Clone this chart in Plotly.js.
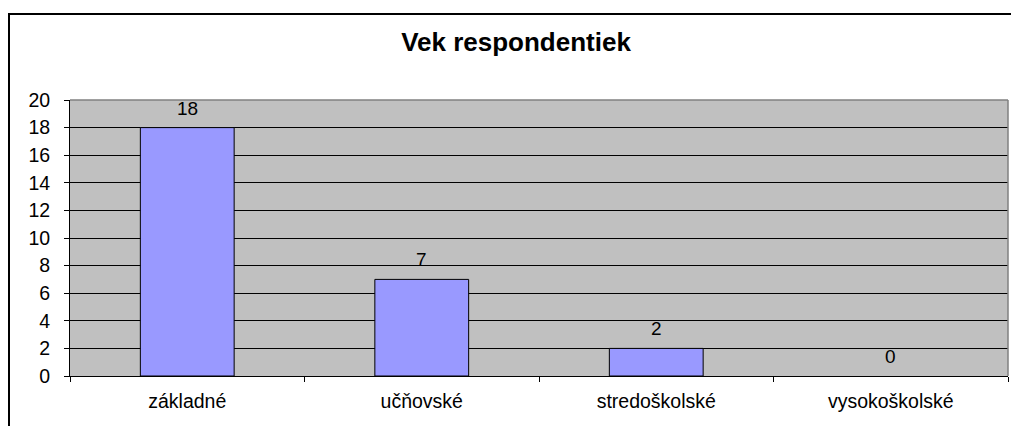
<!DOCTYPE html>
<html><head><meta charset="utf-8">
<script src="https://cdn.plot.ly/plotly-3.0.1.min.js"></script>
<style>
html,body{margin:0;padding:0;background:#fff;overflow:hidden}
#frame{position:absolute;left:8px;top:13px;width:1100px;height:500px;border-left:2px solid #000;border-top:2px solid #000;box-sizing:border-box}
#chart{position:absolute;left:0;top:0;width:1011px;height:426px}
</style></head>
<body>
<div id="frame"></div>
<div id="chart"></div>
<script>
var categories = ["základné", "učňovské", "stredoškolské", "vysokoškolské"];
var values = [18, 7, 2, 0];
var yTicks = [0, 2, 4, 6, 8, 10, 12, 14, 16, 18, 20];

var trace = {
  type: "bar",
  x: categories,
  y: values,
  marker: {color: "#9999ff", line: {color: "#000", width: values.map(function(v){ return v > 0 ? 1 : 0; })}},
  hoverinfo: "none"
};

var annotations = categories.map(function(c, i){
  return {x: c, y: values[i], xref: "x", yref: "y", text: String(values[i]),
    showarrow: false, yanchor: "bottom", yshift: 7,
    font: {family: "Liberation Sans, Arial, sans-serif", size: 19, color: "#000"}};
});

var layout = {
  width: 1011, height: 426,
  margin: {l: 70, r: 3, t: 100, b: 50},
  paper_bgcolor: "rgba(0,0,0,0)",
  plot_bgcolor: "#c0c0c0",
  showlegend: false,
  bargap: 0.6,
  font: {family: "Liberation Sans, Arial, sans-serif", size: 19.5, color: "#000"},
  title: {text: "<b>Vek respondentiek</b>", x: 0.5104, xanchor: "center", y: 0.9014, yanchor: "middle",
    font: {family: "Liberation Sans, Arial, sans-serif", size: 26, color: "#000"}},
  xaxis: {type: "category", showgrid: false, showline: true, linecolor: "#000", linewidth: 1,
    ticks: "outside", tickson: "boundaries", ticklen: 5, tickcolor: "#000",
    ticklabelstandoff: 8, fixedrange: true, zeroline: false},
  yaxis: {range: [0, 20], tickvals: yTicks, showgrid: true, gridcolor: "#000", gridwidth: 1,
    showline: true, linecolor: "#000", linewidth: 1, ticks: "outside", ticklen: 5, tickcolor: "#000",
    ticklabelstandoff: 10, zeroline: false, fixedrange: true},
  annotations: annotations,
  shapes: [
    {type: "line", xref: "paper", yref: "paper", x0: 0, x1: 1, y0: 1, y1: 1, line: {color: "#808080", width: 1.5}, layer: "above"},
    {type: "line", xref: "paper", yref: "paper", x0: 1, x1: 1, y0: 0, y1: 1, line: {color: "#808080", width: 1.5}, layer: "above"}
  ]
};

Plotly.newPlot("chart", [trace], layout, {displayModeBar: false, staticPlot: true});
</script>
</body></html>
